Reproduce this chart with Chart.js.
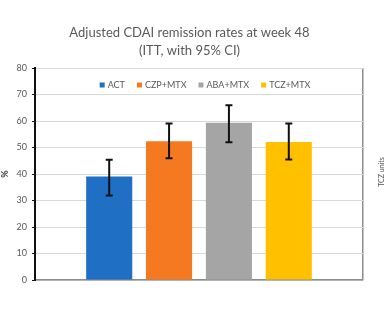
<!DOCTYPE html>
<html>
<head>
<meta charset="utf-8">
<script src="https://cdn.jsdelivr.net/npm/chart.js@4.4.1/dist/chart.umd.min.js"></script>
<style>
  html, body { margin: 0; padding: 0; background: #fff; }
  #wrap { width: 386px; height: 332px; position: relative; }
</style>
</head>
<body>
<div id="wrap"><canvas id="remissionChart"></canvas></div>
<script>
// Chart data
const groups = ["ACT", "CZP+MTX", "ABA+MTX", "TCZ+MTX"];
const remission = [39.1, 52.4, 59.3, 52.1];
const ciLow = [31.9, 45.9, 52.0, 45.5];
const ciHigh = [45.4, 59.1, 65.9, 59.1];
const barColors = ["#1f6fc5", "#f47920", "#a5a5a5", "#ffc000"];
const yTicks = [0, 10, 20, 30, 40, 50, 60, 70, 80];

const fontFamily = "Lato, 'Open Sans', sans-serif";

// Error bars (95% CI) drawn through the y scale
const errorBars = {
    id: 'errorBars',
    afterDatasetsDraw(chart) {
        const ctx = chart.ctx;
        const y = chart.scales.y;
        ctx.save();
        ctx.strokeStyle = '#111';
        ctx.lineWidth = 2;
        chart.data.datasets.forEach((ds, i) => {
            const bar = chart.getDatasetMeta(i).data[0];
            const top = y.getPixelForValue(ciHigh[i]);
            const bottom = y.getPixelForValue(ciLow[i]);
            ctx.beginPath();
            ctx.moveTo(bar.x, top);
            ctx.lineTo(bar.x, bottom);
            ctx.moveTo(bar.x - 3.5, top);
            ctx.lineTo(bar.x + 3.5, top);
            ctx.moveTo(bar.x - 3.5, bottom);
            ctx.lineTo(bar.x + 3.5, bottom);
            ctx.stroke();
        });
        ctx.restore();
    }
};

// Legend sits inside the plot area, near the top
const innerLegend = {
    id: 'innerLegend',
    afterDraw(chart) {
        const ctx = chart.ctx;
        const area = chart.chartArea;
        ctx.save();
        ctx.font = '9px ' + fontFamily;
        ctx.textBaseline = 'middle';
        const box = 5, gapText = 3, gapItem = 12;
        const widths = chart.data.datasets.map(ds => box + gapText + ctx.measureText(ds.label).width);
        const total = widths.reduce((a, b) => a + b, 0) + gapItem * (widths.length - 1);
        let x = (area.left + area.right) / 2 - total / 2 + 6;
        const yMid = area.top + 17;
        chart.data.datasets.forEach((ds, i) => {
            ctx.fillStyle = ds.backgroundColor;
            ctx.fillRect(x, yMid - box / 2, box, box);
            ctx.fillStyle = '#595959';
            ctx.fillText(ds.label, x + box + gapText, yMid);
            x += widths[i] + gapItem;
        });
        // cut-off axis title of the neighbouring chart
        ctx.translate(382, 172);
        ctx.rotate(-Math.PI / 2);
        ctx.textAlign = 'center';
        ctx.font = '7px ' + fontFamily;
        ctx.fillStyle = '#555';
        ctx.fillText('TCZ units', 0, 0);
        ctx.restore();
    }
};

const ctx = document.getElementById('remissionChart').getContext('2d');
new Chart(ctx, {
    type: 'bar',
    data: {
        labels: [''],
        datasets: groups.map((g, i) => ({
            label: g,
            data: [remission[i]],
            backgroundColor: barColors[i],
            borderWidth: 0
        }))
    },
    options: {
        responsive: true,
        maintainAspectRatio: false,
        animation: false,
        layout: {
            padding: { left: 0, right: 7, top: 0, bottom: 52 }
        },
        datasets: {
            bar: {
                categoryPercentage: 0.73,
                barPercentage: 0.77
            }
        },
        plugins: {
            legend: { display: false },
            tooltip: { enabled: false },
            title: {
                display: true,
                text: ['Adjusted CDAI remission rates at week 48', '(ITT, with 95% CI)'],
                color: '#595959',
                font: { family: fontFamily, size: 13, weight: 'normal', lineHeight: 1.385 },
                padding: { top: 24, bottom: 8 }
            }
        },
        scales: {
            x: {
                ticks: { display: false },
                grid: {
                    color: '#8c8c8c',
                    lineWidth: 1.5,
                    drawTicks: false
                },
                border: { color: '#8c8c8c', width: 1.5 }
            },
            y: {
                min: 0,
                max: 80,
                afterBuildTicks: scale => {
                    scale.ticks = yTicks.map(v => ({ value: v }));
                },
                afterFit: scale => { scale.width = 35; },
                ticks: {
                    color: '#595959',
                    font: { family: fontFamily, size: 9 },
                    padding: 5
                },
                grid: {
                    color: '#d9d9d9',
                    tickColor: '#111',
                    tickLength: 3,
                    lineWidth: 1
                },
                border: { color: '#111', width: 2 },
                title: {
                    display: true,
                    text: '%',
                    color: '#404040',
                    font: { family: fontFamily, size: 9, weight: 'bold' },
                    padding: { top: 0, bottom: 0 }
                }
            },
            // empty strip on the right, keeps the title centred like the original
            yRight: {
                position: 'right',
                min: 0,
                max: 80,
                ticks: { display: false },
                grid: { display: false },
                border: { display: false },
                afterFit: scale => { scale.width = 16; }
            }
        }
    },
    plugins: [errorBars, innerLegend]
});
</script>
</body>
</html>
